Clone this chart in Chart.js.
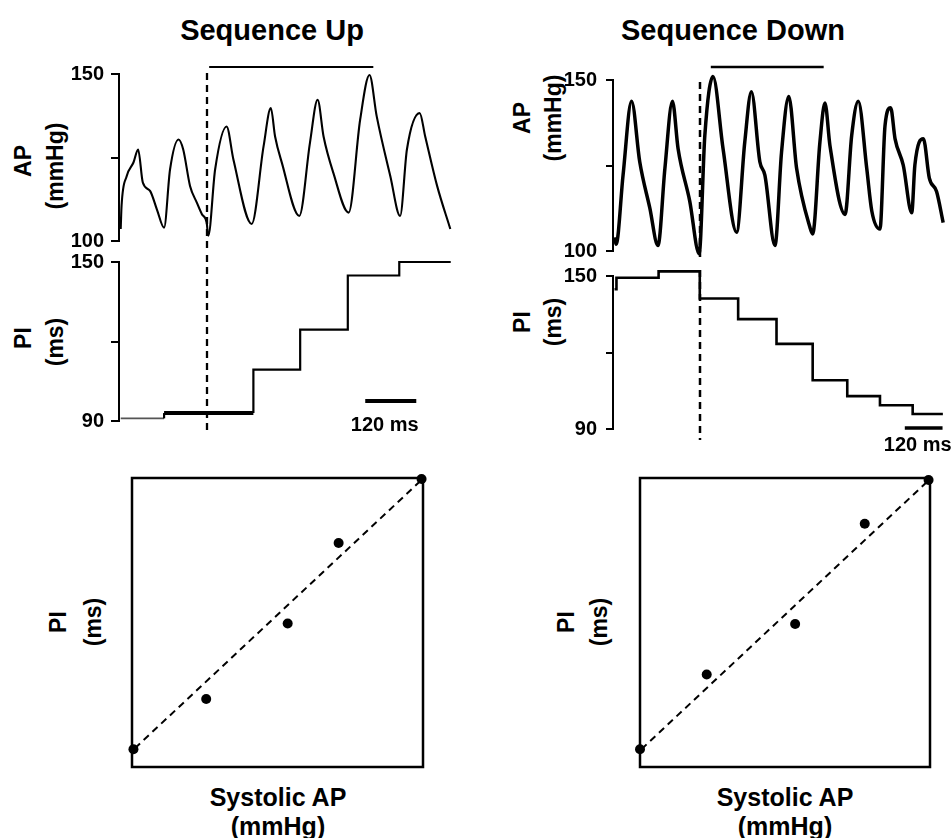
<!DOCTYPE html>
<html><head><meta charset="utf-8">
<script src="https://cdn.jsdelivr.net/npm/chart.js@4.4.1/dist/chart.umd.min.js"></script>
<style>
body{margin:0;background:#fff;}
#wrap{position:relative;width:952px;height:838px;overflow:hidden;background:#fff;font-family:Arial,"Liberation Sans",Helvetica,sans-serif;}
canvas{position:absolute;}
.t{position:absolute;font-weight:bold;color:#000;white-space:nowrap;text-align:center;}
.title{font-size:29px;width:300px;height:34px;line-height:34px;}
.rot{font-size:23px;width:140px;height:26px;line-height:26px;transform:rotate(-90deg);}
.xl{font-size:25px;width:240px;height:30px;line-height:30px;}
</style></head>
<body><div id="wrap">
<div class="t title" style="left:122px;top:13px">Sequence Up</div>
<div class="t title" style="left:583px;top:13px">Sequence Down</div>

<div class="t rot" style="left:-47px;top:148px">AP</div>
<div class="t rot" style="left:-15px;top:153px">(mmHg)</div>
<div class="t rot" style="left:-47px;top:325px">PI</div>
<div class="t rot" style="left:-15px;top:329px">(ms)</div>

<div class="t rot" style="left:452px;top:105px">AP</div>
<div class="t rot" style="left:483px;top:105px">(mmHg)</div>
<div class="t rot" style="left:452px;top:309px">PI</div>
<div class="t rot" style="left:483px;top:309px">(ms)</div>

<div class="t rot" style="left:-12px;top:609px">PI</div>
<div class="t rot" style="left:23px;top:609px">(ms)</div>
<div class="t rot" style="left:496px;top:609px">PI</div>
<div class="t rot" style="left:529px;top:609px">(ms)</div>

<div class="t xl" style="left:158px;top:782px">Systolic AP</div>
<div class="t xl" style="left:158px;top:811px">(mmHg)</div>
<div class="t xl" style="left:665px;top:782px">Systolic AP</div>
<div class="t xl" style="left:665px;top:811px">(mmHg)</div>

<canvas id="apUp" width="462" height="210" style="left:0px;top:50px"></canvas>
<canvas id="piUp" width="462" height="207" style="left:0px;top:243px"></canvas>
<canvas id="apDown" width="472" height="216" style="left:480px;top:56px"></canvas>
<canvas id="piDown" width="472" height="214" style="left:480px;top:255px"></canvas>
<canvas id="scUp" width="315" height="313" style="left:120px;top:466px"></canvas>
<canvas id="scDown" width="314" height="313" style="left:628px;top:466px"></canvas>
</div>
<script>
// ---------------- data ----------------
// Sequence Up: arterial pressure trace (time in ms, AP in mmHg)
const apUpTime  = [4,6,18,34,45,56,73,89,106,120,140,151,167,183,195,206,210,226,253,269,312,340,357,367,383,424,449,467,481,504,540,567,589,606,638,661,677,707,720,748,779];
const apUpValue = [103.6,110.5,119.4,123.5,127.4,117.5,115,109.5,104,121.4,130.4,127.4,116.5,111.5,108,105.6,101.6,121.4,134.3,124.4,105.1,128.4,139.8,131.3,123.4,107.5,129.4,142.3,131.3,120.4,108.5,136.3,149.7,137.3,119.4,107.5,127.4,138.3,131.3,116.5,103.6];
// Sequence Up: pulse interval (step boundaries in ms, PI in ms per interval)
const piUpTime  = [4,106,316,426,538,659,780];
const piUpValue = [91,93,109.4,124.5,144.9,150];
const piUpBoldInterval = 1;

// Sequence Down
const apDownTime  = [5,10,32,59,85,117,143,165,189,207,244,274,292,318,350,393,419,440,467,483,515,536,559,584,626,635,658,674,690,738,759,780,807,823,849,865,883,897,923,950,960,987,1006,1029,1050];
const apDownValue = [104,102,122.2,143.8,126.1,112.6,101.6,124.1,143.8,129.9,114.6,99.2,133.7,151,129.9,105.5,131.8,146.6,126.1,122.2,101.6,128.9,145.2,124.1,107,105,131.8,143.3,130.8,110.7,133.7,143.8,124.1,111.7,106.4,136.6,141.9,132.8,125.1,111.2,125.1,132.8,121.3,117.4,108.3];
const piDownTime  = [5,11,145,276,398,520,635,745,849,953,1049];
const piDownValue = [144.8,149.3,151.8,141.2,133.1,123.4,109.1,102.9,99.3,95.9];

// Event markers (ms)
const onsetUp = 208, onsetDown = 276;
const sequenceUp = [212, 598], sequenceDown = [311, 670];
const scaleBarUp = [579, 699], scaleBarDown = [928, 1048];
const scaleBarLabel = '120 ms';

// Tick values and labels
const apTicks = [100, 125, 150], apTickLabels = ['100', '', '150'];
const piTicks = [90, 120, 150],  piTickLabels = ['90', '', '150'];

// Scatter: systolic AP (mmHg) vs PI (ms)
const sapUp   = [130.1, 135.1, 140.7, 144.2, 149.9];
const piUpSc  = [93.7, 104.1, 119.8, 136.5, 149.8];
const fitUpX  = [130.2, 149.9], fitUpY = [93.9, 149.6];
const sapDown = [130.0, 134.6, 140.7, 145.5, 149.9];
const piDownSc= [93.7, 109.2, 119.7, 140.5, 149.6];
const fitDownX= [130.1, 149.9], fitDownY = [93.7, 149.5];

// ---------------- rendering ----------------
Chart.defaults.font.family = 'Arial, "Liberation Sans", Helvetica, sans-serif';
Chart.defaults.color = '#000';

const markers = {
  id: 'markers',
  afterDatasetsDraw(chart, args, o) {
    const {ctx, chartArea: a} = chart;
    const x = chart.scales.x;
    ctx.save();
    ctx.strokeStyle = '#000'; ctx.fillStyle = '#000'; ctx.lineCap = 'butt';
    if (o.onset) {
      const px = Math.round(x.getPixelForValue(o.onset.value));
      ctx.lineWidth = o.onset.width; ctx.setLineDash([7, 5]);
      ctx.beginPath(); ctx.moveTo(px, a.top + o.onset.from); ctx.lineTo(px, a.bottom + o.onset.to); ctx.stroke();
      ctx.setLineDash([]);
    }
    if (o.span) {
      const y = a.top + o.span.dy;
      ctx.lineWidth = o.span.width;
      ctx.beginPath(); ctx.moveTo(x.getPixelForValue(o.span.range[0]), y); ctx.lineTo(x.getPixelForValue(o.span.range[1]), y); ctx.stroke();
    }
    if (o.bar) {
      const y = a.bottom + o.bar.dy;
      const x0 = x.getPixelForValue(o.bar.range[0]), x1 = x.getPixelForValue(o.bar.range[1]);
      ctx.lineWidth = o.bar.width;
      ctx.beginPath(); ctx.moveTo(x0, y); ctx.lineTo(x1, y); ctx.stroke();
      ctx.font = 'bold 20px Arial, "Liberation Sans", sans-serif';
      ctx.textAlign = 'center'; ctx.textBaseline = 'middle';
      ctx.fillText(o.bar.label, (x0 + x1) / 2 - 6, a.bottom + o.bar.textDy);
    }
    if (o.frame) {
      ctx.lineWidth = o.frame;
      ctx.strokeRect(a.left, a.top, a.width, a.height);
    }
    ctx.restore();
  }
};

function yAxis(ticks, labels, width, tickLen, pad) {
  return {
    type: 'linear', min: ticks[0], max: ticks[ticks.length - 1],
    afterBuildTicks: s => { s.ticks = ticks.map(v => ({value: v})); },
    afterFit: s => { s.width = width; },
    grid: {display: true, drawOnChartArea: false, drawTicks: true, tickLength: tickLen, color: '#000', lineWidth: 2},
    border: {display: true, color: '#000', width: 2},
    ticks: {color: '#000', autoSkip: false, font: {size: 20, weight: 'bold'}, padding: pad, callback: (v, i) => labels[i]}
  };
}

function pts(xs, ys) { return xs.map((t, i) => ({x: t, y: ys[i]})); }
function stepPts(times, values) {
  const p = [];
  values.forEach((v, i) => { p.push({x: times[i], y: v, k: i}); p.push({x: times[i + 1], y: v, k: i}); });
  return p;
}

const baseOpts = (xmax, y, padding, markerOpts) => ({
  responsive: false, animation: false, devicePixelRatio: 1,
  layout: {padding},
  scales: {x: {type: 'linear', display: false, min: 0, max: xmax}, y},
  plugins: {legend: {display: false}, tooltip: {enabled: false}, markers: markerOpts}
});

// Sequence Up - AP
new Chart(document.getElementById('apUp'), {
  type: 'line',
  data: {datasets: [{data: pts(apUpTime, apUpValue), borderColor: '#000', borderWidth: 2.1, pointRadius: 0,
    cubicInterpolationMode: 'monotone', clip: false, borderJoinStyle: 'round'}]},
  options: baseOpts(783, yAxis(apTicks, apTickLabels, 119, 8, 7), {left: 0, top: 24, right: 10, bottom: 18},
    {onset: {value: onsetUp, from: -1, to: 7, width: 2.3}, span: {range: sequenceUp, dy: -7, width: 2}}),
  plugins: [markers]
});

// Sequence Up - PI
const piUpData = stepPts(piUpTime, piUpValue);
const segK = c => (piUpData[c.p0DataIndex].k === piUpData[c.p1DataIndex].k) ? piUpData[c.p0DataIndex].k : -1;
new Chart(document.getElementById('piUp'), {
  type: 'line',
  data: {datasets: [{data: piUpData, borderColor: '#000', borderWidth: 2.2, pointRadius: 0, clip: false,
    segment: {
      borderWidth: c => segK(c) === piUpBoldInterval ? 4 : (segK(c) === 0 ? 1.8 : 2.2),
      borderColor: c => segK(c) === 0 ? '#555' : '#000'
    }}]},
  options: baseOpts(783, yAxis(piTicks, piTickLabels, 119, 8, 7), {left: 0, top: 13, right: 10, bottom: 29},
    {onset: {value: onsetUp, from: -7, to: 11, width: 2.3}, bar: {range: scaleBarUp, dy: -20, width: 4, label: scaleBarLabel, textDy: 4}}),
  plugins: [markers]
});

// Sequence Down - AP
new Chart(document.getElementById('apDown'), {
  type: 'line',
  data: {datasets: [{data: pts(apDownTime, apDownValue), borderColor: '#000', borderWidth: 3.5, pointRadius: 0,
    cubicInterpolationMode: 'monotone', clip: false, borderJoinStyle: 'round'}]},
  options: baseOpts(1059, yAxis(apTicks, apTickLabels, 133, 7, 9), {left: 0, top: 24, right: 6, bottom: 18},
    {onset: {value: onsetDown, from: 2, to: 8, width: 2.5}, span: {range: sequenceDown, dy: -13, width: 2.5}}),
  plugins: [markers]
});

// Sequence Down - PI
new Chart(document.getElementById('piDown'), {
  type: 'line',
  data: {datasets: [{data: stepPts(piDownTime, piDownValue), borderColor: '#000', borderWidth: 2.6, pointRadius: 0, clip: false}]},
  options: baseOpts(1059, yAxis(piTicks, piTickLabels, 133, 7, 9), {left: 0, top: 13, right: 6, bottom: 40},
    {onset: {value: onsetDown, from: -6, to: 11, width: 2.5}, bar: {range: scaleBarDown, dy: -1, width: 3.5, label: scaleBarLabel, textDy: 16}}),
  plugins: [markers]
});

function scatterChart(id, xs, ys, fx, fy) {
  new Chart(document.getElementById(id), {
    type: 'scatter',
    data: {datasets: [
      {data: pts(xs, ys), pointRadius: 5, pointBackgroundColor: '#000', pointBorderWidth: 0, showLine: false, clip: false},
      {type: 'line', data: pts(fx, fy), borderColor: '#000', borderWidth: 2, borderDash: [7, 5], pointRadius: 0, clip: false}
    ]},
    options: {
      responsive: false, animation: false, devicePixelRatio: 1,
      layout: {padding: 12},
      scales: {x: {type: 'linear', display: false, min: 130, max: 150}, y: {type: 'linear', display: false, min: 90, max: 150}},
      plugins: {legend: {display: false}, tooltip: {enabled: false}, markers: {frame: 2.5}}
    },
    plugins: [markers]
  });
}
scatterChart('scUp', sapUp, piUpSc, fitUpX, fitUpY);
scatterChart('scDown', sapDown, piDownSc, fitDownX, fitDownY);
</script>
</body></html>
